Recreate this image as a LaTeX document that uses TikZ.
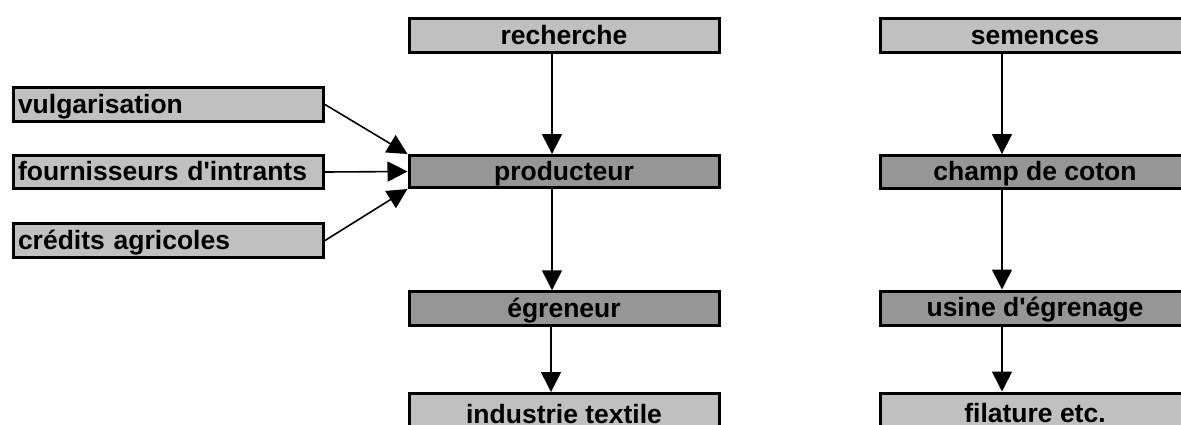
\documentclass[tikz,border=0pt]{standalone}
\usepackage{fontspec}
\setmainfont{Liberation Sans}
\usetikzlibrary{arrows.meta}
\definecolor{lightbox}{HTML}{C0C0C0}
\definecolor{darkbox}{HTML}{969696}
\tikzset{
  boxbase/.style={draw=black, line width=3pt, inner sep=0pt, minimum width=310pt, minimum height=33pt,
    text height=19pt, text depth=1.5pt, font=\fontsize{26.5}{30}\selectfont\bfseries, text=black},
  lightb/.style={boxbase, fill=lightbox},
  darkb/.style={boxbase, fill=darkbox},
  leftb/.style={boxbase, fill=lightbox, text width=301pt, align=left},
  arr/.style={line width=1.6pt, -{Triangle[length=20pt,width=20pt]}},
}
\begin{document}
\begin{tikzpicture}[x=1pt,y=-1pt]
\useasboundingbox (0,0) rectangle (1181,424);
\clip (0,0) rectangle (1181,424);
\fill[white] (0,0) rectangle (1181,424);
% middle column
\node[lightb, minimum height=34pt] (rech) at (564,35.5) {recherche};
\node[darkb, minimum height=32pt] (prod) at (564,171.5) {producteur};
\node[darkb, minimum height=33.5pt] (egr) at (564,308.5) {égreneur};
\node[lightb, minimum height=42pt] (ind) at (564,414.5) {industrie textile};
% right column
\node[lightb, minimum height=34pt] (sem) at (1035,35.5) {semences};
\node[darkb, minimum height=32.5pt] (champ) at (1035,171.8) {champ de coton};
\node[darkb, minimum height=34pt] (usine) at (1035,308) {usine d\textquotesingle égrenage};
\node[lightb, minimum height=42pt] (fil) at (1035,414) {filature etc.};
% left boxes
\node[leftb, minimum height=33.5pt] (vulg) at (168.5,104.5) {vulgarisation};
\node[leftb, minimum height=33pt] (four) at (168.5,172) {fournisseurs d\textquotesingle intrants};
\node[leftb, minimum height=33.5pt] (cred) at (168.5,240.5) {crédits agricoles};
% axis coordinates
\coordinate (ax1) at (552,0);
\coordinate (ax2) at (551,0);
\coordinate (ax3) at (1002,0);
% connectors
\draw[arr] (rech.south -| ax1) -- (prod.north -| ax1);
\draw[arr] (prod.south -| ax1) -- (egr.north -| ax1);
\draw[arr] (egr.south -| ax2) -- (ind.north -| ax2);
\draw[arr] (sem.south -| ax3) -- (champ.north -| ax3);
\draw[arr] (champ.south -| ax3) -- (usine.north -| ax3);
\draw[arr] (usine.south -| ax3) -- (fil.north -| ax3);
\draw[arr] (vulg.east) -- (prod.north west);
\draw[arr] (four.east) -- (prod.west);
\draw[arr] (cred.east) -- (prod.south west);
\end{tikzpicture}
\end{document}
